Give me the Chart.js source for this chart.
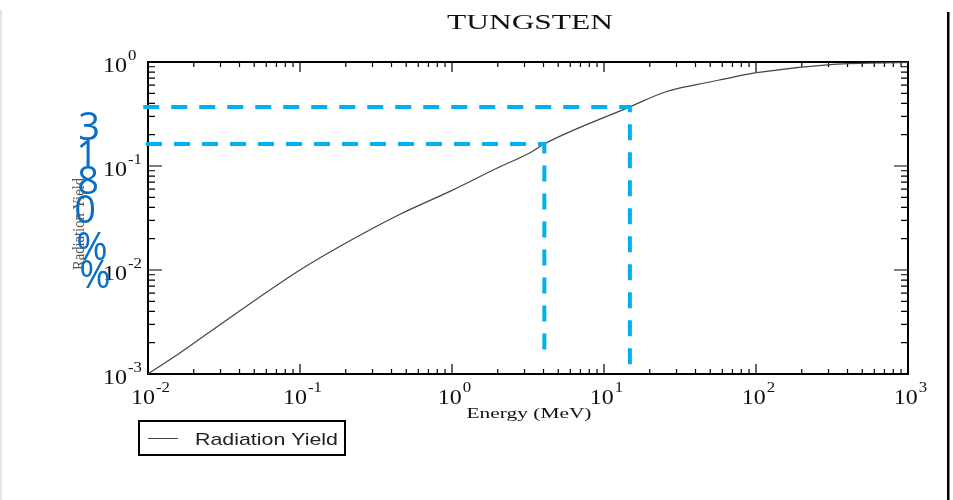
<!DOCTYPE html>
<html><head><meta charset="utf-8">
<script src="https://cdn.jsdelivr.net/npm/chart.js@4/dist/chart.umd.min.js"></script>
<style>html,body{margin:0;padding:0;background:#fff;} #wrap{width:953px;height:500px;position:relative;}</style>
</head><body><div id="wrap"><canvas id="c" width="953" height="500"></canvas></div>
<script>
// ---- data ----
const energies = [0.01, 0.0162, 0.0346, 0.1, 0.213, 0.432, 1, 1.97, 3.26, 4.05, 14.8, 25.8, 40.6, 60, 101, 322, 1000];
const yields   = [0.001, 0.00159, 0.00348, 0.01, 0.0191, 0.0331, 0.0583, 0.095, 0.134, 0.163, 0.37, 0.52, 0.605, 0.68, 0.789, 0.95, 0.99];
const xDecades = [0.01, 0.1, 1, 10, 100, 1000];
const xExponents = ['-2', '-1', '0', '1', '2', '3'];
const yDecades = [0.001, 0.01, 0.1, 1];
const yExponents = ['-3', '-2', '-1', '0'];
const markerEnergies = [4.05, 14.8];
const markerYields = [0.163, 0.37];
const markerXStart = [0.0097, 0.0093];
const markerYEnd = [0.00148, 0.001];
const overlayChars = ['3', '1', '8', '0', '%', '%'];
const titleText = 'TUNGSTEN';
const xTitle = 'Energy (MeV)';
const yTitle = 'Radiation Yield';
const seriesName = 'Radiation Yield';

const SERIF = '"Liberation Serif","DejaVu Serif",serif';
const SANS = '"Liberation Sans",Arial,sans-serif';

function fitText(ctx, text, x, y, font, width, align, color, sy) {
  ctx.save();
  ctx.font = font;
  const w = ctx.measureText(text).width;
  const sx = width / w;
  ctx.translate(x, y);
  ctx.scale(sx, sy || 1);
  ctx.textAlign = align;
  ctx.textBaseline = 'alphabetic';
  ctx.fillStyle = color;
  ctx.fillText(text, 0, 0);
  ctx.restore();
}
function stretchText(ctx, text, x, y, font, sx, color) {
  ctx.save();
  ctx.font = font;
  ctx.translate(x, y);
  ctx.scale(sx, 1);
  ctx.textAlign = 'left';
  ctx.textBaseline = 'alphabetic';
  ctx.fillStyle = color;
  ctx.fillText(text, 0, 0);
  ctx.restore();
}
function measure(ctx, text, font, sx) {
  ctx.save(); ctx.font = font; const w = ctx.measureText(text).width * sx; ctx.restore(); return w;
}

const framePlugin = {
  id: 'frame',
  beforeDatasetsDraw(chart) {
    const ctx = chart.ctx, a = chart.chartArea;
    const xs = chart.scales.x, ys = chart.scales.y;
    ctx.save();
    ctx.strokeStyle = '#000';
    ctx.lineWidth = 1.2;
    ctx.beginPath();
    for (let d = 0; d < xDecades.length; d++) {
      for (let k = 1; k <= 9; k++) {
        const v = xDecades[d] * k;
        if (v > xDecades[xDecades.length - 1] * 1.0001) break;
        const px = xs.getPixelForValue(v);
        const len = k === 1 ? 10 : 5;
        ctx.moveTo(px, a.bottom); ctx.lineTo(px, a.bottom - len);
        ctx.moveTo(px, a.top); ctx.lineTo(px, a.top + len);
      }
    }
    for (let d = 0; d < yDecades.length; d++) {
      for (let k = 1; k <= 9; k++) {
        const v = yDecades[d] * k;
        if (v > yDecades[yDecades.length - 1] * 1.0001) break;
        const py = ys.getPixelForValue(v);
        const len = k === 1 ? 14 : 7;
        ctx.moveTo(a.left, py); ctx.lineTo(a.left + len, py);
        ctx.moveTo(a.right, py); ctx.lineTo(a.right - len, py);
      }
    }
    ctx.stroke();
    ctx.lineWidth = 2;
    ctx.strokeRect(a.left, a.top, a.right - a.left, a.bottom - a.top);
    ctx.restore();
  },
  afterDraw(chart) {
    const ctx = chart.ctx, a = chart.chartArea;
    const xs = chart.scales.x, ys = chart.scales.y;
    const F10 = '20px ' + SERIF, FS = '14px ' + SERIF, SX = 1.2;
    xDecades.forEach((v, i) => {
      const px = xs.getPixelForValue(v);
      const w1 = measure(ctx, '10', F10, SX), w2 = measure(ctx, xExponents[i], FS, SX);
      const left = px + 2 - (w1 + w2) / 2;
      stretchText(ctx, '10', left, a.bottom + 30, F10, SX, '#111');
      stretchText(ctx, xExponents[i], left + w1 + 1, a.bottom + 18, FS, SX, '#111');
    });
    yDecades.forEach((v, i) => {
      const py = ys.getPixelForValue(v);
      const w1 = measure(ctx, '10', F10, SX);
      stretchText(ctx, '10', 103, py + 10, F10, SX, '#111');
      stretchText(ctx, yExponents[i], 103 + w1 + 1, py - 2, FS, SX, '#111');
    });
    const cx = (a.left + a.right) / 2;
    fitText(ctx, titleText, cx + 2, 29, '21px ' + SERIF, 166, 'center', '#111');
    fitText(ctx, xTitle, cx + 1, 418, '15px ' + SERIF, 125, 'center', '#111');
    ctx.save();
    ctx.translate(84, 224);
    ctx.rotate(-Math.PI / 2);
    fitText(ctx, yTitle, 0, 0, '13px ' + SERIF, 92, 'center', '#555', 1.35);
    ctx.restore();
    ctx.save();
    ctx.strokeStyle = '#000';
    ctx.lineWidth = 2;
    ctx.strokeRect(139, 421, 206, 34);
    ctx.strokeStyle = '#444';
    ctx.lineWidth = 1;
    ctx.beginPath(); ctx.moveTo(148, 438.5); ctx.lineTo(178, 438.5); ctx.stroke();
    ctx.restore();
    fitText(ctx, seriesName, 195, 445, '17px ' + SANS, 143, 'left', '#222');
    ctx.save();
    ctx.fillStyle = '#000';
    ctx.fillRect(947, 12, 2.5, 488);
    ctx.fillStyle = '#e4e4e4';
    ctx.fillRect(0, 10, 2, 490);
    ctx.restore();
    const pos = [[89, 140], [87, 168], [88, 194], [85, 223], [92, 260], [95, 288]];
    ctx.save();
    ctx.font = '38px "Open Sans",' + SANS;
    ctx.fillStyle = '#0a6ec2';
    ctx.textAlign = 'center';
    ctx.textBaseline = 'alphabetic';
    overlayChars.forEach((ch, i) => ctx.fillText(ch, pos[i][0], pos[i][1]));
    ctx.restore();
  }
};

const datasets = [{
  label: seriesName,
  data: energies.map((e, i) => ({ x: e, y: yields[i] })),
  borderColor: '#444',
  borderWidth: 1.2,
  pointRadius: 0,
  cubicInterpolationMode: 'monotone',
  order: 2
}];
markerEnergies.forEach((e, i) => {
  datasets.push({
    label: 'marker' + i,
    data: [{ x: markerXStart[i], y: markerYields[i] }, { x: e, y: markerYields[i] }, { x: e, y: markerYEnd[i] }],
    borderColor: '#00b0f0',
    borderWidth: 4,
    borderDash: [16, 12],
    pointRadius: 0,
    tension: 0,
    order: 1
  });
});

new Chart(document.getElementById('c'), {
  type: 'line',
  data: { datasets },
  plugins: [framePlugin],
  options: {
    responsive: false,
    animation: false,
    devicePixelRatio: 1,
    layout: { padding: { left: 148, right: 45, top: 62, bottom: 126 } },
    clip: false,
    plugins: { legend: { display: false }, tooltip: { enabled: false }, title: { display: false } },
    scales: {
      x: { type: 'logarithmic', min: 0.01, max: 1000, display: false },
      y: { type: 'logarithmic', min: 0.001, max: 1, display: false }
    }
  }
});
</script>
</body></html>
